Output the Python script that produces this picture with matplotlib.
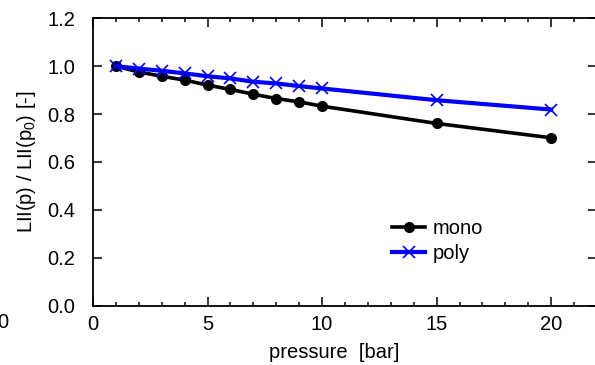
import matplotlib
matplotlib.use("Agg")
import matplotlib.pyplot as plt
from matplotlib.ticker import MultipleLocator, FormatStrFormatter

plt.rcParams['font.family'] = ['Liberation Sans', 'DejaVu Sans']
plt.rcParams['mathtext.fontset'] = 'custom'
plt.rcParams['mathtext.rm'] = 'Liberation Sans'

pressure = [1, 2, 3, 4, 5, 6, 7, 8, 9, 10, 15, 20]
mono = [1.0, 0.976, 0.958, 0.942, 0.921, 0.903, 0.883, 0.865, 0.851, 0.833, 0.761, 0.701]
poly = [1.0, 0.990, 0.981, 0.970, 0.958, 0.949, 0.935, 0.928, 0.917, 0.907, 0.858, 0.819]

FS = 14.5

fig = plt.figure(figsize=(5.95, 3.65), dpi=100)
ax = fig.add_axes([93/595, (365-305.7)/365, (597-93)/595, (305.7-18.3)/365])

ax.plot(pressure, mono, color='black', lw=2.6, marker='o', ms=7, label='mono')
ax.plot(pressure, poly, color='#0000ff', lw=3.0, marker='x', ms=8, mew=1.2, label='poly')

ax.set_xlim(0, 22)
ax.set_ylim(0, 1.2)
ax.xaxis.set_major_locator(MultipleLocator(5))
ax.xaxis.set_minor_locator(MultipleLocator(1))
ax.yaxis.set_major_locator(MultipleLocator(0.2))
ax.yaxis.set_major_formatter(FormatStrFormatter('%.1f'))

ax.tick_params(axis='both', which='both', direction='in', top=True, right=True, width=1.1, colors='black')
ax.tick_params(axis='both', which='major', length=6.5, labelsize=FS)
ax.tick_params(axis='both', which='minor', length=3.2)
ax.tick_params(axis='x', pad=7)
ax.tick_params(axis='y', pad=13)
for s in ax.spines.values():
    s.set_linewidth(1.3)

ax.set_xlabel('pressure  [bar]', fontsize=FS)
ax.xaxis.set_label_coords((334-93)/(597-93), -(343-305.7)/287.4)
ax.set_ylabel(r'LII(p) / LII(p$_0$) [-]', fontsize=FS)
ax.yaxis.set_label_coords(-(93-38)/(597-93), 0.5)

leg = ax.legend(loc='upper left', bbox_to_anchor=((384-93)/(597-93), 1-(211-18.3)/287.4),
                frameon=False, fontsize=FS, handlelength=1.65, handletextpad=0.35,
                labelspacing=0.3, borderaxespad=0)

fig.text(2.5/595, 1-322/365, '0', fontsize=FS, ha='center', va='center')

fig.savefig('out.png', dpi=100)
